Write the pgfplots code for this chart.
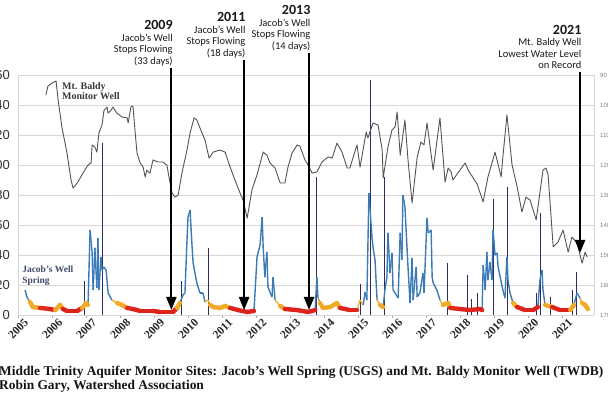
\documentclass[border=0pt]{standalone}
\usepackage{fontspec}
\setmainfont{Liberation Serif}
\newfontfamily\carlito{Carlito}
\newfontfamily\arial{Liberation Sans}
\usepackage{pgfplots}
\pgfplotsset{compat=1.18}
\usepackage{pgfplotstable}
\usetikzlibrary{arrows.meta}

\definecolor{jwblue}{RGB}{58,122,182}
\definecolor{navy}{RGB}{45,45,95}
\definecolor{mbline}{RGB}{88,80,86}
\definecolor{gridc}{RGB}{218,213,215}
\definecolor{jwlab}{RGB}{64,74,106}

\pgfplotsset{colormap={jwmap}{rgb255(0pt)=(222,35,28) rgb255(4.3pt)=(222,35,28) rgb255(5pt)=(242,168,40) rgb255(9.5pt)=(242,178,45) rgb255(10.5pt)=(58,122,182) rgb255(160pt)=(58,122,182)}}

% Jacob's Well spring flow (cfs)
\pgfplotstableread{
x y
2005.21 16.7
2005.26 12
2005.35 8.7
2005.44 5.3
2005.65 4.7
2005.94 4
2006.09 3.3
2006.24 6.7
2006.32 4
2006.44 2.7
2006.74 2.7
2006.88 4.7
2006.94 6
2007.00 8
2007.06 6.7
2007.12 56.7
2007.18 41.3
2007.21 16.7
2007.26 44.7
2007.32 18
2007.35 51.3
2007.38 16.7
2007.44 38.7
2007.47 30
2007.53 32
2007.59 30
2007.65 14.7
2007.76 10
2007.91 8
2008.06 6.7
2008.21 4.7
2008.38 4
2008.59 2.7
2008.97 2.7
2009.18 2
2009.56 2
2009.68 4.7
2009.76 8
2009.85 13.3
2009.91 14.7
2009.97 50
2010.00 65.3
2010.06 70
2010.12 45.3
2010.15 34.7
2010.26 21.3
2010.35 14.7
2010.44 14.7
2010.50 8.7
2010.59 10
2010.65 6.7
2010.74 5.3
2010.94 4.7
2011.09 6
2011.24 4.7
2011.47 3.3
2011.74 2
2011.94 2.7
2012.03 38.7
2012.12 46.7
2012.18 65.3
2012.21 45.3
2012.26 25.3
2012.32 42
2012.35 18.7
2012.47 12
2012.50 25.3
2012.56 10
2012.71 6
2012.85 4
2013.21 3.3
2013.53 2
2013.74 3.3
2013.79 25.3
2013.82 12
2013.88 8
2013.97 4.7
2014.18 5.3
2014.38 8
2014.47 4.7
2014.76 3.3
2014.97 3.3
2015.06 10
2015.15 6.7
2015.21 15.3
2015.26 10
2015.32 81.3
2015.41 52
2015.44 45.3
2015.50 36.7
2015.56 10
2015.65 6.7
2015.74 5.3
2015.79 16.7
2015.85 25.3
2015.88 54.7
2015.94 28
2016.00 41.3
2016.03 16.7
2016.09 14.7
2016.18 11.3
2016.24 54.7
2016.29 36.7
2016.32 80
2016.38 72
2016.44 45.3
2016.47 32
2016.53 8
2016.59 38
2016.62 10
2016.71 32
2016.74 12
2016.82 14.7
2016.91 28
2016.94 14.7
2017.03 64.7
2017.06 54.7
2017.15 56.7
2017.18 25.3
2017.21 21.3
2017.32 16.7
2017.41 10
2017.50 6.7
2017.65 8
2017.71 4.7
2018.00 4
2018.29 3.3
2018.59 4
2018.65 3.3
2018.68 33.3
2018.74 16.7
2018.79 42
2018.82 23.3
2018.88 35.3
2018.94 23.3
2018.97 56.7
2019.03 40
2019.09 41.3
2019.12 32
2019.24 18.7
2019.32 11.3
2019.38 38.7
2019.41 23.3
2019.47 14.7
2019.56 8
2019.68 5.3
2019.91 3.3
2020.15 3.3
2020.29 5.3
2020.35 23.3
2020.41 30
2020.44 16.7
2020.50 6.7
2020.71 5.3
2020.94 3.3
2021.24 3.3
2021.35 6.7
2021.44 14.7
2021.53 11.3
2021.59 8
2021.68 6.7
2021.76 4
}\jwdata

% short storm spikes at Jacob's Well (cfs)
\pgfplotstableread{
x y
2006.94 23
2007.47 114.7
2009.82 23
2010.59 44.7
2013.79 92
2015.06 21
2015.35 156.7
2015.79 92
2017.62 35
2018.21 27
2018.32 11
2018.50 15
2018.97 77
2019.38 85
2020.26 15
2020.35 68
2020.65 12
2021.29 17
2021.41 29
}\spikes

% Mt. Baldy monitor well, depth to water (ft)
\pgfplotstableread{
x y
2005.82 96.7
2005.88 93.7
2006.00 92.7
2006.12 92.0
2006.18 98.3
2006.29 107.3
2006.44 116.0
2006.56 125.0
2006.62 127.7
2006.76 125.7
2006.91 122.7
2007.06 120.0
2007.15 119.3
2007.18 113.3
2007.26 114.0
2007.32 115.7
2007.38 109.3
2007.47 106.7
2007.53 101.7
2007.62 100.7
2007.65 102.7
2007.74 101.7
2007.79 100.7
2007.91 102.7
2008.06 104.0
2008.21 104.3
2008.24 106.0
2008.32 100.7
2008.38 100.3
2008.44 108.3
2008.50 116.0
2008.59 119.3
2008.68 120.7
2008.74 124.0
2008.79 121.7
2008.88 122.7
2008.97 118.3
2009.12 119.0
2009.26 119.0
2009.38 120.0
2009.44 124.0
2009.53 129.3
2009.62 130.7
2009.71 130.0
2009.82 122.7
2009.97 115.0
2010.06 109.3
2010.18 104.3
2010.26 105.0
2010.41 109.3
2010.50 111.7
2010.62 117.7
2010.74 115.7
2010.94 115.0
2011.09 115.7
2011.24 120.7
2011.38 125.0
2011.53 129.3
2011.62 131.7
2011.74 137.7
2011.88 128.3
2012.03 123.3
2012.21 115.7
2012.32 116.7
2012.41 119.3
2012.56 121.0
2012.71 126.0
2012.85 126.0
2012.94 120.7
2013.06 116.0
2013.21 113.3
2013.29 113.7
2013.44 118.3
2013.53 120.0
2013.65 122.7
2013.79 122.3
2013.94 119.0
2014.12 117.3
2014.24 117.7
2014.38 112.7
2014.53 115.7
2014.68 121.0
2014.76 121.0
2014.97 113.3
2015.06 120.7
2015.24 109.0
2015.29 111.0
2015.44 106.0
2015.59 106.7
2015.71 115.0
2015.74 124.3
2015.88 114.0
2016.00 108.3
2016.09 107.3
2016.15 102.3
2016.24 116.7
2016.38 105.0
2016.47 118.3
2016.59 132.7
2016.74 117.3
2016.85 112.3
2016.94 113.3
2017.03 106.0
2017.21 121.7
2017.41 104.3
2017.56 125.7
2017.65 121.0
2017.74 122.3
2017.79 125.0
2018.15 119.3
2018.24 121.7
2018.50 126.3
2018.68 132.3
2018.82 124.0
2019.03 115.7
2019.21 124.0
2019.26 117.3
2019.38 103.3
2019.53 120.0
2019.68 127.3
2019.82 135.7
2019.94 130.7
2020.06 131.7
2020.24 138.3
2020.44 121.7
2020.53 121.0
2020.59 123.3
2020.74 147.3
2020.88 145.7
2021.03 141.7
2021.18 149.0
2021.29 144.0
2021.44 146.0
2021.59 152.7
2021.68 149.0
2021.74 150.7
}\mbdata

\begin{document}
\begin{tikzpicture}
\begin{axis}[
  at={(18pt,79pt)}, anchor=south west,
  scale only axis, width=576pt, height=240pt,
  xmin=2005, xmax=2021.94, ymin=0, ymax=160,
  axis x line*=bottom, axis y line*=left,
  axis line style={draw=gridc, line width=0.8pt},
  xtick={2005,2006,2007,2008,2009,2010,2011,2012,2013,2014,2015,2016,2017,2018,2019,2020,2021},
  xticklabels={2005,2006,2007,2008,2009,2010,2011,2012,2013,2014,2015,2016,2017,2018,2019,2020,2021},
  x tick style={draw=gray!70, line width=0.6pt},
  tick align=outside, major tick length=3pt,
  xticklabel style={font=\bfseries\fontsize{11.5}{11.5}\selectfont, rotate=45, anchor=north east, inner sep=0pt, xshift=4pt, yshift=-4pt, text=black!85},
  ytick={0,20,40,60,80,100,120,140,160},
  yticklabels={0,20,40,60,80,100,120,140,160},
  y tick style={draw=none},
  yticklabel style={font=\arial\fontsize{13}{13}\selectfont, inner sep=0pt, anchor=east, xshift=-5pt, text=black!80},
  ymajorgrids, grid style={draw=gridc, line width=0.9pt},
  point meta min=0, point meta max=160,
  clip=false
]
\addplot[ycomb, draw=navy, line width=0.8pt, mark=none] table {\spikes};
\addplot[mesh, colormap name=jwmap, point meta=y, line width=1.4pt, line join=round] table {\jwdata};
\addplot[mesh, colormap name=jwmap, point meta=y, line width=4.4pt, line cap=round, line join=round,
  restrict y to domain=0:9.9, unbounded coords=jump] table {\jwdata};
\node[anchor=north west, inner sep=0pt, align=left, text=black!78, font=\bfseries\fontsize{10}{10}\selectfont] at (axis cs:2006.29,155.3) {Mt. Baldy\\Monitor Well};
\node[anchor=north west, inner sep=0pt, align=left, text=jwlab, font=\bfseries\fontsize{9.5}{11}\selectfont] at (axis cs:2005.12,32.7) {Jacob’s Well\\Spring};
\end{axis}

\begin{axis}[
  at={(18pt,79pt)}, anchor=south west,
  scale only axis, width=576pt, height=240pt,
  xmin=2005, xmax=2021.94, ymin=90, ymax=170, y dir=reverse,
  axis x line=none, axis y line*=right,
  axis line style={draw=gridc, line width=0.8pt},
  ytick={90,100,110,120,130,140,150,160,170},
  yticklabels={90,100,110,120,130,140,150,160,170},
  y tick style={draw=none},
  yticklabel style={font=\arial\fontsize{6}{6}\selectfont, text=gray, anchor=west, inner sep=0pt, xshift=6pt},
  clip=false
]
\addplot[draw=mbline, line width=0.9pt, mark=none, line join=round] table {\mbdata};

\draw[line width=2.2pt, -{Triangle[length=13pt,width=10pt]}] (axis cs:2009.51,87.67) -- (axis cs:2009.51,168.33);
\draw[line width=2.2pt, -{Triangle[length=13pt,width=10pt]}] (axis cs:2011.65,85.0) -- (axis cs:2011.65,168.33);
\draw[line width=2.2pt, -{Triangle[length=13pt,width=10pt]}] (axis cs:2013.56,82.67) -- (axis cs:2013.56,168.33);
\draw[line width=2.2pt, -{Triangle[length=13pt,width=10pt]}] (axis cs:2021.53,89.0) -- (axis cs:2021.53,149.33);

\node[anchor=south east, inner sep=0pt, align=right, text=black!90, font=\carlito\fontsize{10.5}{11.5}\selectfont] at ([xshift=1.5pt,yshift=2pt]axis cs:2009.51,87.67) {{\bfseries\fontsize{14}{14}\selectfont 2009}\\Jacob’s Well\\Stops Flowing\\(33 days)};
\node[anchor=south east, inner sep=0pt, align=right, text=black!90, font=\carlito\fontsize{10.5}{11.5}\selectfont] at ([xshift=1.5pt,yshift=2pt]axis cs:2011.65,85.0) {{\bfseries\fontsize{14}{14}\selectfont 2011}\\Jacob’s Well\\Stops Flowing\\(18 days)};
\node[anchor=south east, inner sep=0pt, align=right, text=black!90, font=\carlito\fontsize{10.5}{11.5}\selectfont] at ([xshift=1.5pt,yshift=2pt]axis cs:2013.56,82.67) {{\bfseries\fontsize{14}{14}\selectfont 2013}\\Jacob’s Well\\Stops Flowing\\(14 days)};
\node[anchor=south east, inner sep=0pt, align=right, text=black!90, font=\carlito\fontsize{10.5}{11.5}\selectfont] at ([xshift=1.5pt,yshift=3pt]axis cs:2021.53,89.0) {{\bfseries\fontsize{14}{14}\selectfont 2021}\\Mt. Baldy Well\\Lowest Water Level\\on Record};
\end{axis}

\node[anchor=base west, inner sep=0pt, text=black!92, font=\bfseries\fontsize{13.4}{15}\selectfont] at (-1pt,19pt) {Middle Trinity Aquifer Monitor Sites: Jacob’s Well Spring (USGS) and Mt. Baldy Monitor Well (TWDB)};
\node[anchor=base west, inner sep=0pt, text=black!92, font=\bfseries\fontsize{13.4}{15}\selectfont] at (-1pt,5pt) {Robin Gary, Watershed Association};

\pgfresetboundingbox
\path[use as bounding box] (0,0) rectangle (608pt,394pt);
\end{tikzpicture}
\end{document}
